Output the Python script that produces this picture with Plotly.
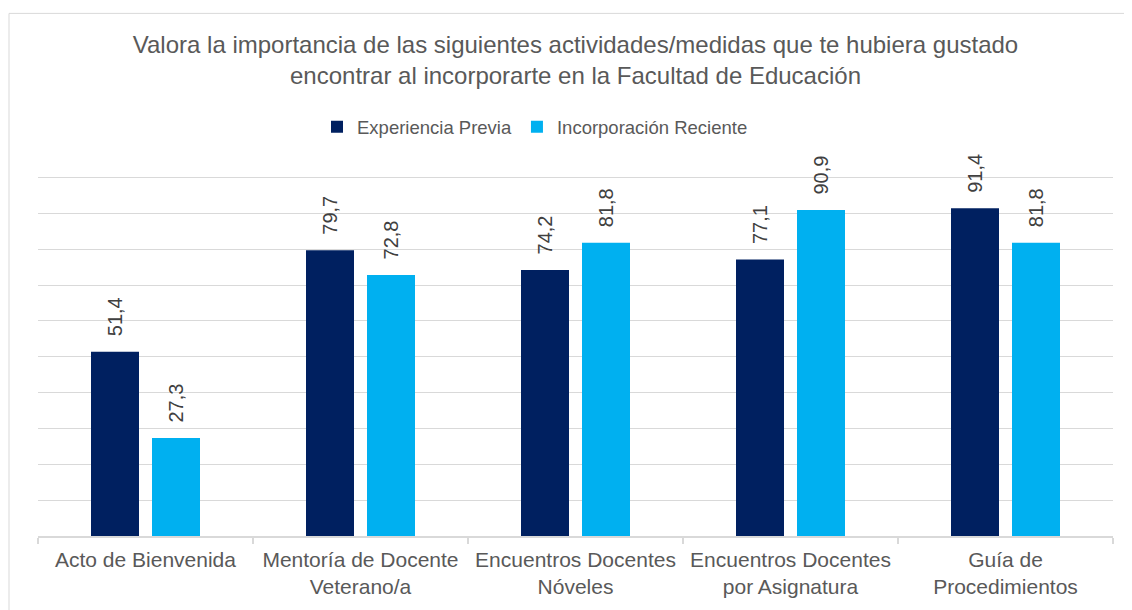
import plotly.graph_objects as go

categories = ["Acto de Bienvenida", "Mentoría de Docente<br>Veterano/a",
              "Encuentros Docentes<br>Nóveles", "Encuentros Docentes<br>por Asignatura",
              "Guía de<br>Procedimientos"]
experiencia_previa = [51.4, 79.7, 74.2, 77.1, 91.4]
incorporacion_reciente = [27.3, 72.8, 81.8, 90.9, 81.8]
series_names = ["Experiencia Previa", "Incorporación Reciente"]
colors = ["#002060", "#00B0F0"]

# page body has an 8px margin: figure origin sits at (8, 8) of the window
OFF = 8
W, H = 1132 - OFF, 610 - OFF
ML, MR, MT, MB = 38 - OFF, 19, 176 - OFF, 72
PW, PH = W - ML - MR, H - MT - MB
FONT = "Liberation Sans, Arial, sans-serif"

fig = go.Figure()
for name, vals, col in zip(series_names, [experiencia_previa, incorporacion_reciente], colors):
    fig.add_trace(go.Bar(x=categories, y=vals, name=name, marker=dict(color=col, line=dict(width=0))))

def fmt(v):
    return f"{v:.1f}".replace(".", ",")

annotations = []
for vals, shift in [(experiencia_previa, -30.5), (incorporacion_reciente, 30.5)]:
    for c, v in zip(categories, vals):
        annotations.append(dict(x=c, y=v, xref="x", yref="y", text=fmt(v), showarrow=False,
                                textangle=-90, yanchor="bottom", xanchor="center",
                                xshift=shift, yshift=13,
                                font=dict(family=FONT, size=20, color="#404040")))

def px2x(px):
    return (px - OFF - ML) / PW

def py2y(py):
    return (H - MB - (py - OFF)) / PH

fig.update_layout(
    width=W, height=H,
    margin=dict(l=ML, r=MR, t=MT, b=MB),
    paper_bgcolor="white", plot_bgcolor="white",
    barmode="group", bargap=0.4326, bargroupgap=0.213,
    font=dict(family=FONT, size=20, color="#595959"),
    title=dict(text="Valora la importancia de las siguientes actividades/medidas que te hubiera gustado<br>encontrar al incorporarte en la Facultad de Educación",
               x=0.5, xref="paper", xanchor="center", y=1 - 45 / H, yref="container", yanchor="top",
               font=dict(family=FONT, size=24, color="#595959")),
    legend=dict(orientation="h", x=px2x(317), y=py2y(127), xanchor="left", yanchor="middle",
                font=dict(family=FONT, size=18.5, color="#595959"),
                bgcolor="rgba(0,0,0,0)", itemclick=False),
    xaxis=dict(showline=True, linecolor="#d9d9d9", linewidth=1.5, ticks="outside", tickson="boundaries",
               ticklen=6, tickcolor="#d9d9d9", tickwidth=1.5, showgrid=False, ticklabelstandoff=4,
               tickfont=dict(family=FONT, size=21, color="#595959")),
    yaxis=dict(range=[0, 100.4], dtick=10, showticklabels=False, gridcolor="#d9d9d9", gridwidth=1.2,
               zeroline=False, showline=False),
    annotations=annotations,
    shapes=[dict(type="rect", xref="paper", yref="paper", x0=px2x(9), x1=px2x(1145),
                 y0=py2y(625), y1=py2y(12.5), line=dict(color="#d9d9d9", width=1), layer="below")],
)

fig.write_html("out.html")
